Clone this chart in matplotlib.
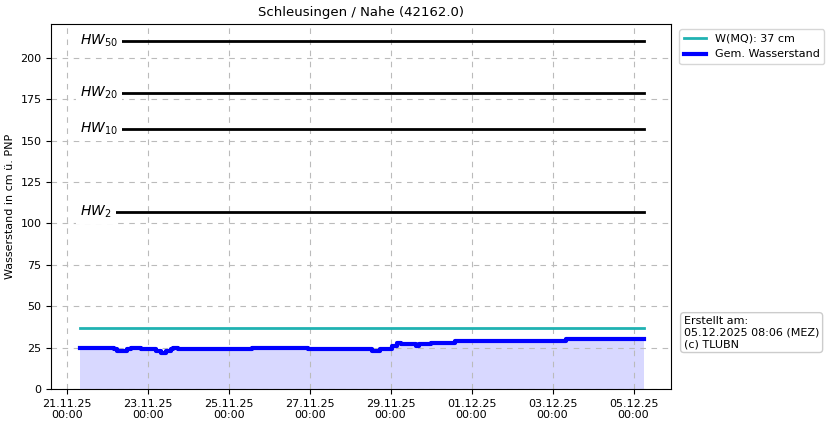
import matplotlib
matplotlib.use("Agg")
import matplotlib.pyplot as plt
import matplotlib.dates as mdates
from datetime import datetime, timedelta

t0 = datetime(2025, 11, 21)
# Stunden ab 21.11.25 00:00 und Wasserstand (cm)
stunden = [8, 28, 30, 34, 36, 38, 44, 45, 51, 53, 56, 59, 62, 63, 66,
           110, 143, 181, 185, 186, 191, 193, 196, 198, 206, 207, 209, 215,
           216, 230, 296, 342]
werte = [25, 24, 23, 23, 24, 25, 24, 24, 24, 23, 22, 23, 24, 25, 24,
         25, 24, 23, 23, 24, 24, 26, 28, 27, 27, 26, 27, 27,
         28, 29, 30, 30]
zeit = [t0 + timedelta(hours=h) for h in stunden]

mq = 37
hw_namen = ['$HW_{50}$', '$HW_{20}$', '$HW_{10}$', '$HW_{2}$']
hw_werte = [210, 179, 157, 107]

fig = plt.figure(figsize=(8.29, 4.26), dpi=100)
ax = fig.add_axes([0.062, 0.087, 0.747, 0.857])

start, ende = zeit[0], zeit[-1]
for name, w in zip(hw_namen, hw_werte):
    ax.plot([start, ende], [w, w], color='black', lw=2)
    ax.text(start, w, name, fontsize=10, va='center', ha='left',
            bbox=dict(facecolor='white', edgecolor='none', pad=3))

ax.plot([start, ende], [mq, mq], color='#20b2b2', lw=2, label=f'W(MQ): {mq} cm')
ax.fill_between(zeit, werte, step='post', color='#d8d8ff', lw=0)
ax.step(zeit, werte, where='post', color='blue', lw=3, label='Gem. Wasserstand')

ax.set_ylim(0, 220.5)
ax.set_xlim(t0 - timedelta(hours=9), t0 + timedelta(hours=358))
ax.xaxis.set_major_locator(mdates.DayLocator(interval=2))
ax.xaxis.set_major_formatter(mdates.DateFormatter('%d.%m.%y\n%H:%M'))
ax.grid(True, ls=(0, (5, 5)), color='#bbbbbb')
ax.tick_params(labelsize=8)
ax.set_ylabel('Wasserstand in cm ü. PNP', fontsize=8)
ax.set_title('Schleusingen / Nahe (42162.0)', fontsize=9.5)
ax.legend(loc='upper left', bbox_to_anchor=(1.005, 1.0), fontsize=8)
fig.text(0.825, 0.185, 'Erstellt am:\n05.12.2025 08:06 (MEZ)\n(c) TLUBN', fontsize=8,
         bbox=dict(facecolor='white', edgecolor='#cccccc', boxstyle='round,pad=0.3'))

fig.savefig('out.png', dpi=100)
